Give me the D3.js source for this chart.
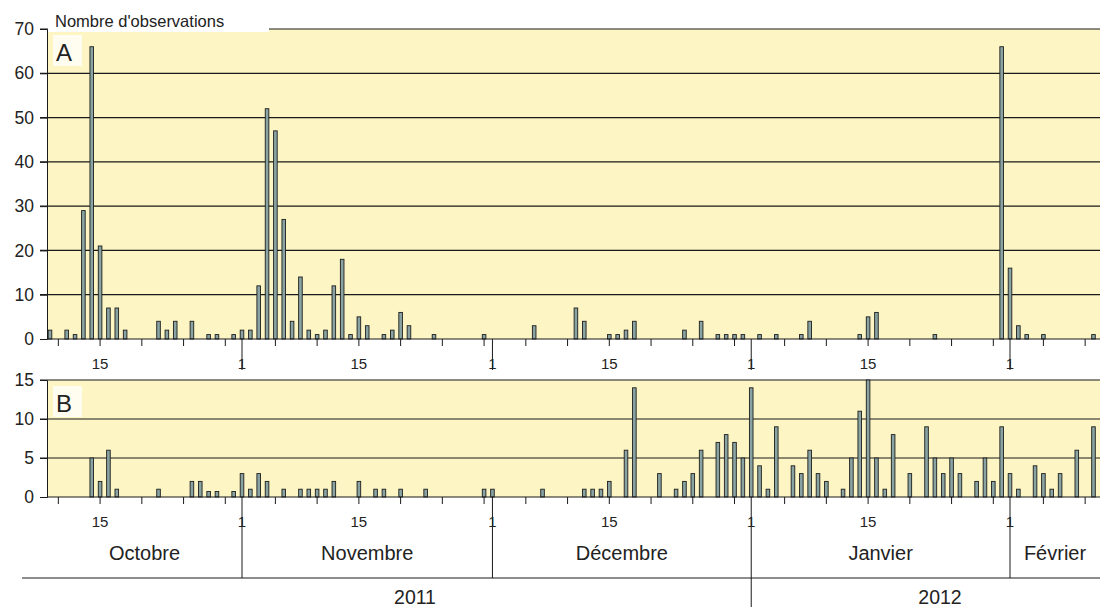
<!DOCTYPE html>
<html>
<head>
<meta charset="utf-8">
<title>Nombre d'observations</title>
<script src="https://d3js.org/d3.v7.min.js"></script>
<style>
  body { margin: 0; background: #fff; }
  text { font-family: "Liberation Sans", Arial, sans-serif; fill: #222; }
</style>
</head>
<body>
<div id="chart"></div>
<script>
// panneau A : dates et nombre d'observations
const datesA = ["2011-10-09","2011-10-11","2011-10-12","2011-10-13","2011-10-14","2011-10-15","2011-10-16","2011-10-17","2011-10-18",
  "2011-10-22","2011-10-23","2011-10-24","2011-10-26","2011-10-28","2011-10-29","2011-10-31",
  "2011-11-01","2011-11-02","2011-11-03","2011-11-04","2011-11-05","2011-11-06","2011-11-07","2011-11-08","2011-11-09","2011-11-10",
  "2011-11-11","2011-11-12","2011-11-13","2011-11-14","2011-11-15","2011-11-16","2011-11-18","2011-11-19","2011-11-20","2011-11-21",
  "2011-11-24","2011-11-30",
  "2011-12-06","2011-12-11","2011-12-12","2011-12-15","2011-12-16","2011-12-17","2011-12-18","2011-12-24","2011-12-26",
  "2011-12-28","2011-12-29","2011-12-30","2011-12-31",
  "2012-01-02","2012-01-04","2012-01-07","2012-01-08","2012-01-14","2012-01-15","2012-01-16","2012-01-23","2012-01-31",
  "2012-02-01","2012-02-02","2012-02-03","2012-02-05","2012-02-11"];
const valuesA = [2,2,1,29,66,21,7,7,2,
  4,2,4,4,1,1,1,
  2,2,12,52,47,27,4,14,2,1,
  2,12,18,1,5,3,1,2,6,3,
  1,1,
  3,7,4,1,1,2,4,2,4,
  1,1,1,1,
  1,1,1,4,1,5,6,1,66,
  16,3,1,1,1];

// panneau B
const datesB = ["2011-10-14","2011-10-15","2011-10-16","2011-10-17","2011-10-22","2011-10-26","2011-10-27","2011-10-28","2011-10-29","2011-10-31",
  "2011-11-01","2011-11-02","2011-11-03","2011-11-04","2011-11-06","2011-11-08","2011-11-09","2011-11-10","2011-11-11","2011-11-12",
  "2011-11-15","2011-11-17","2011-11-18","2011-11-20","2011-11-23","2011-11-30",
  "2011-12-01","2011-12-07","2011-12-12","2011-12-13","2011-12-14","2011-12-15","2011-12-17","2011-12-18","2011-12-21","2011-12-23",
  "2011-12-24","2011-12-25","2011-12-26","2011-12-28","2011-12-29","2011-12-30","2011-12-31",
  "2012-01-01","2012-01-02","2012-01-03","2012-01-04","2012-01-06","2012-01-07","2012-01-08","2012-01-09","2012-01-10","2012-01-12",
  "2012-01-13","2012-01-14","2012-01-15","2012-01-16","2012-01-17","2012-01-18","2012-01-20","2012-01-22","2012-01-23","2012-01-24",
  "2012-01-25","2012-01-26","2012-01-28","2012-01-29","2012-01-30","2012-01-31",
  "2012-02-01","2012-02-02","2012-02-04","2012-02-05","2012-02-06","2012-02-07","2012-02-09","2012-02-11"];
const valuesB = [5,2,6,1,1,2,2,0.7,0.7,0.7,
  3,1,3,2,1,1,1,1,1,2,
  2,1,1,1,1,1,
  1,1,1,1,1,2,6,14,3,1,
  2,3,6,7,8,7,5,
  14,4,1,9,4,3,6,3,2,1,
  5,11,15,5,1,8,3,9,5,3,
  5,3,2,5,2,9,
  3,1,4,3,1,3,6,9];

const ticksA = [0,10,20,30,40,50,60,70];
const ticksB = [0,5,10,15];
const months = ["Octobre","Novembre","Décembre","Janvier","Février"];
const monthStarts = ["2011-10-01","2011-11-01","2011-12-01","2012-01-01","2012-02-01","2012-03-01"];
const years = ["2011","2012"];

const W = 1100, H = 607;
const parse = d3.utcParse("%Y-%m-%d");

const svg = d3.select("#chart").append("svg")
    .attr("width", W).attr("height", H);

const left = 47, right = 1100;
const x = d3.scaleUtc()
    .domain([Date.UTC(2011, 9, 8, 15, 22), Date.UTC(2012, 1, 11, 18, 43)])
    .range([left, right]);

const yA = d3.scaleLinear().domain([0, 70]).range([339, 29]);
const yB = d3.scaleLinear().domain([0, 15]).range([497, 380]);

const yellow = "#fdf5c4";
const barFill = "#88a3a2";
const barW = 3.6;

// ticks de l'axe x : 1, 5, 10, 15, 20, 25, 30 de chaque mois
const xTicks = d3.utcDay.range(x.domain()[0], x.domain()[1])
    .filter(d => [1,5,10,15,20,25,30].includes(d.getUTCDate()));

function panel(y, ticks, dates, values, letter, majorEnd, minorLen, labelY) {
  const [y0, y1] = y.range();
  svg.append("rect")
      .attr("x", left).attr("y", y1)
      .attr("width", right - left).attr("height", y0 - y1)
      .attr("fill", yellow);

  // lignes de grille
  svg.append("g").selectAll("line").data(ticks.slice(1)).join("line")
      .attr("x1", left - 7).attr("x2", right)
      .attr("y1", d => y(d)).attr("y2", d => y(d))
      .attr("stroke", "#1a1a1a").attr("stroke-width", 1.2);

  // axe y
  const ax = svg.append("g").attr("transform", "translate(" + left + ",0)")
      .call(d3.axisLeft(y).tickValues(ticks).tickSize(7).tickPadding(6));
  ax.select(".domain").attr("stroke", "#1a1a1a");
  ax.selectAll("line").attr("stroke", "#1a1a1a");
  ax.selectAll("text").attr("font-size", 17.5).attr("fill", "#222")
      .attr("font-family", "Liberation Sans, Arial, sans-serif");

  // barres
  svg.append("g").selectAll("rect").data(dates.map((d, i) => [parse(d), values[i]])).join("rect")
      .attr("x", d => x(d[0]) - barW / 2)
      .attr("y", d => y(d[1]))
      .attr("width", barW)
      .attr("height", d => y(0) - y(d[1]))
      .attr("fill", barFill)
      .attr("stroke", "#1e1e1e").attr("stroke-width", 0.9);

  // axe x
  svg.append("line")
      .attr("x1", left).attr("x2", right)
      .attr("y1", y0).attr("y2", y0)
      .attr("stroke", "#1a1a1a").attr("stroke-width", 1.2);

  svg.append("g").selectAll("line").data(xTicks).join("line")
      .attr("x1", d => x(d)).attr("x2", d => x(d))
      .attr("y1", y0)
      .attr("y2", d => d.getUTCDate() === 1 ? majorEnd(d) : y0 + minorLen)
      .attr("stroke", "#1a1a1a").attr("stroke-width", 1);

  svg.append("g").selectAll("text")
      .data(xTicks.filter(d => d.getUTCDate() === 1 || d.getUTCDate() === 15)).join("text")
      .attr("x", d => x(d)).attr("y", labelY)
      .attr("text-anchor", "middle")
      .attr("font-size", 15)
      .text(d => d.getUTCDate());

  // lettre du panneau
  svg.append("rect").attr("x", 53).attr("y", y1 + 6).attr("width", 29).attr("height", 31)
      .attr("fill", "#fffdf0");
  svg.append("text").attr("x", 56).attr("y", y1 + 32)
      .attr("font-size", 24).text(letter);
}

panel(yA, ticksA, datesA, valuesA, "A", () => 370, 7, 369);
panel(yB, ticksB, datesB, valuesB, "B", d => d.getUTCMonth() === 0 ? 607 : 578, 7, 527);

// titre de l'axe y
svg.append("rect").attr("x", left + 1).attr("y", 8).attr("width", 221).attr("height", 24)
    .attr("fill", "#fff");
svg.append("text").attr("x", 55).attr("y", 27)
    .attr("font-size", 16.5).text("Nombre d'observations");

// mois
const ms = monthStarts.map(parse);
svg.append("g").selectAll("text").data(months).join("text")
    .attr("x", (d, i) => (Math.max(left, x(ms[i])) + Math.min(right, x(ms[i + 1]))) / 2)
    .attr("y", 560)
    .attr("text-anchor", "middle")
    .attr("font-size", 20)
    .attr("transform-origin", "center")
    .text(d => d);

svg.append("line").attr("x1", 22).attr("x2", right).attr("y1", 578).attr("y2", 578)
    .attr("stroke", "#1a1a1a").attr("stroke-width", 1.2);

svg.append("g").selectAll("text").data(years).join("text")
    .attr("x", (d, i) => [415, 940][i])
    .attr("y", 604)
    .attr("text-anchor", "middle")
    .attr("font-size", 19.5)
    .text(d => d);
</script>
</body>
</html>
